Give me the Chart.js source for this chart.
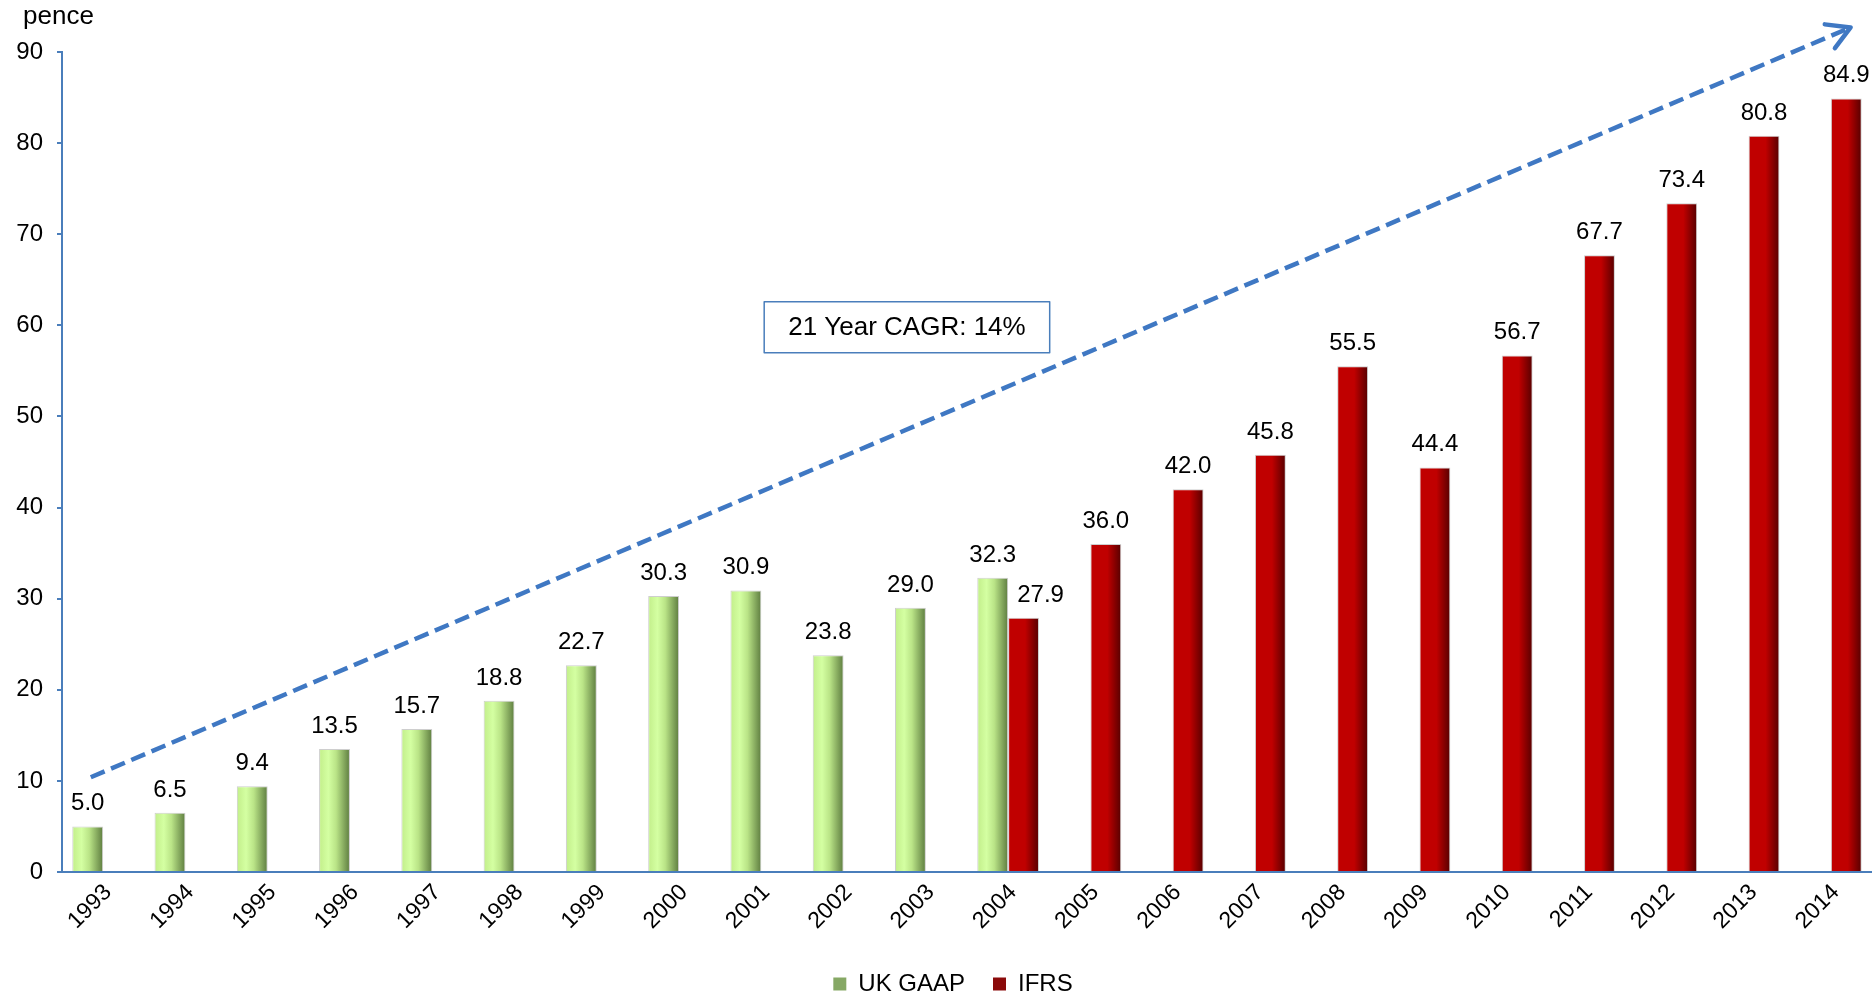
<!DOCTYPE html>
<html>
<head>
<meta charset="utf-8">
<title>Dividend per share</title>
<script src="https://cdn.jsdelivr.net/npm/chart.js@4/dist/chart.umd.min.js"></script>
<style>
  html, body { margin: 0; padding: 0; background: #ffffff; overflow: hidden; }
  canvas { display: block; }
</style>
</head>
<body>
<canvas id="chart" width="1872" height="997"></canvas>
<script>
// ---- data -----------------------------------------------------------
const years = ['1993', '1994', '1995', '1996', '1997', '1998', '1999', '2000', '2001', '2002', '2003',
               '2004', '2005', '2006', '2007', '2008', '2009', '2010', '2011', '2012', '2013', '2014'];

// pence per share, reported under UK GAAP (to 2004) and IFRS (from 2004)
const ukGaap = [5.0, 6.5, 9.4, 13.5, 15.7, 18.8, 22.7, 30.3, 30.9, 23.8, 29.0, 32.3,
                null, null, null, null, null, null, null, null, null, null];
const ifrs   = [null, null, null, null, null, null, null, null, null, null, null, 27.9,
                36.0, 42.0, 45.8, 55.5, 44.4, 56.7, 67.7, 73.4, 80.8, 84.9];

const seriesNames = ['UK GAAP', 'IFRS'];
const valueTicks = [0, 10, 20, 30, 40, 50, 60, 70, 80, 90];
const unitLabel = 'pence';
const cagrText = '21 Year CAGR: 14%';

// ---- styling ----------------------------------------------------------
const FONT = "'Liberation Sans', Arial, Helvetica, sans-serif";
const AXIS_BLUE = '#4a7ebb';
const CATEGORY_PCT = 0.75;

const greenStops = [[0, '#c2ee8a'], [0.3, '#d4ffa2'], [0.55, '#bae487'], [1, '#5d7c3f']];
const redStops   = [[0, '#c00000'], [0.55, '#c00000'], [1, '#560000']];

// Horizontal "cylinder" shading across each bar, placed from the category scale
function barFill(stops) {
  return function (ctx) {
    const chart = ctx.chart;
    const xs = chart.scales && chart.scales.x;
    if (!xs || !xs.width || ctx.type !== 'data') return stops[0][1];
    const center = xs.getPixelForValue(ctx.dataIndex);
    const barW = (xs.width / years.length) * CATEGORY_PCT / 2;
    const left = ctx.datasetIndex === 0 ? center - barW : center;
    const g = chart.ctx.createLinearGradient(left, 0, left + barW, 0);
    stops.forEach(([o, c]) => g.addColorStop(o, c));
    return g;
  };
}

// Nudges the bottom legend sideways after layout
const legendNudge = {
  id: 'legendNudge',
  afterLayout(chart, args, opts) {
    const lg = chart.legend;
    if (!lg) return;
    lg.left += opts.dx;
    lg.right += opts.dx;
  }
};

// Value labels above each bar
const valueLabels = {
  id: 'valueLabels',
  afterDatasetsDraw(chart, args, opts) {
    const ctx = chart.ctx;
    ctx.save();
    ctx.font = opts.font;
    ctx.fillStyle = opts.color;
    ctx.textAlign = 'center';
    ctx.textBaseline = 'alphabetic';
    chart.data.datasets.forEach((ds, di) => {
      const meta = chart.getDatasetMeta(di);
      meta.data.forEach((bar, i) => {
        const v = ds.data[i];
        if (v === null || v === undefined) return;
        let dx = 0;
        (opts.shifts || []).forEach(s => { if (s.dataset === di && s.index === i) dx = s.dx; });
        ctx.fillText(v.toFixed(1), bar.x + dx, bar.y - opts.gap);
      });
    });
    ctx.restore();
  }
};

// Unit caption, dashed growth arrow and the CAGR call-out
const overlay = {
  id: 'overlay',
  afterDatasetsDraw(chart, args, o) {
    const ctx = chart.ctx;
    const xs = chart.scales.x, ys = chart.scales.y;
    ctx.save();

    ctx.font = o.unitFont;
    ctx.fillStyle = '#000';
    ctx.textAlign = 'left';
    ctx.textBaseline = 'alphabetic';
    ctx.fillText(unitLabel, ys.right + o.unitDx, o.unitY);

    const t = o.trend;
    const x0 = xs.getPixelForValue(t.from[0]), y0 = ys.getPixelForValue(t.from[1]);
    const x1 = xs.getPixelForValue(t.to[0]),   y1 = ys.getPixelForValue(t.to[1]);
    ctx.strokeStyle = t.color;
    ctx.lineWidth = t.width;
    ctx.setLineDash(t.dash);
    ctx.beginPath();
    ctx.moveTo(x0, y0);
    ctx.lineTo(x1, y1);
    ctx.stroke();
    ctx.setLineDash([]);
    const ang = Math.atan2(y1 - y0, x1 - x0);
    ctx.lineCap = 'round';
    ctx.lineJoin = 'round';
    ctx.beginPath();
    ctx.moveTo(x1 - t.head * Math.cos(ang - t.spread), y1 - t.head * Math.sin(ang - t.spread));
    ctx.lineTo(x1, y1);
    ctx.lineTo(x1 - t.head * Math.cos(ang + t.spread), y1 - t.head * Math.sin(ang + t.spread));
    ctx.stroke();

    const n = o.note;
    const cx = xs.getPixelForValue(n.at[0]), cy = ys.getPixelForValue(n.at[1]);
    ctx.font = n.font;
    const w = ctx.measureText(cagrText).width + 2 * n.padX;
    const h = n.height;
    ctx.fillStyle = '#fff';
    ctx.fillRect(cx - w / 2, cy - h / 2, w, h);
    ctx.strokeStyle = n.border;
    ctx.lineWidth = n.borderWidth;
    ctx.strokeRect(cx - w / 2, cy - h / 2, w, h);
    ctx.fillStyle = '#000';
    ctx.textAlign = 'center';
    ctx.textBaseline = 'middle';
    ctx.fillText(cagrText, cx, cy + 1);

    ctx.restore();
  }
};

Chart.defaults.font.family = FONT;
Chart.defaults.font.size = 24;
Chart.defaults.color = '#000';

new Chart(document.getElementById('chart'), {
  type: 'bar',
  data: {
    labels: years,
    datasets: [
      {
        label: seriesNames[0],
        data: ukGaap,
        backgroundColor: barFill(greenStops),
        borderColor: 'rgba(190,190,190,0.75)',
        borderWidth: 1,
        categoryPercentage: CATEGORY_PCT,
        barPercentage: 1.0
      },
      {
        label: seriesNames[1],
        data: ifrs,
        backgroundColor: barFill(redStops),
        borderColor: 'rgba(190,190,190,0.75)',
        borderWidth: 1,
        categoryPercentage: CATEGORY_PCT,
        barPercentage: 1.0
      }
    ]
  },
  options: {
    responsive: false,
    animation: false,
    devicePixelRatio: 1,
    events: [],
    layout: { padding: { top: 52, right: -6, left: 0, bottom: 0 } },
    scales: {
      x: {
        grid: { display: false, drawTicks: false },
        border: { display: true, color: AXIS_BLUE, width: 2 },
        ticks: { autoSkip: false, minRotation: 45, maxRotation: 45, padding: 7, labelOffset: 5, font: { size: 23 } },
        afterFit(scale) { scale.height = 72; }
      },
      y: {
        min: 0,
        max: 90,
        afterBuildTicks(scale) { scale.ticks = valueTicks.map(v => ({ value: v })); },
        afterFit(scale) { scale.width = 62; },
        grid: { display: true, drawOnChartArea: false, drawTicks: true, tickLength: 5, color: AXIS_BLUE, lineWidth: 2 },
        border: { display: true, color: AXIS_BLUE, width: 2 },
        ticks: { padding: 14, font: { size: 24 } }
      }
    },
    plugins: {
      tooltip: { enabled: false },
      legend: {
        position: 'bottom',
        maxHeight: 53,
        labels: {
          boxWidth: 13,
          boxHeight: 13,
          padding: 28,
          font: { size: 24 },
          generateLabels() {
            return [
              { text: seriesNames[0], fillStyle: '#86a865', strokeStyle: '#86a865', lineWidth: 0, datasetIndex: 0 },
              { text: seriesNames[1], fillStyle: '#8b0a0a', strokeStyle: '#8b0a0a', lineWidth: 0, datasetIndex: 1 }
            ];
          }
        }
      },
      legendNudge: { dx: 14 },
      valueLabels: {
        font: '24px ' + FONT,
        color: '#000',
        gap: 16,
        shifts: [{ dataset: 1, index: 11, dx: 17 }]
      },
      overlay: {
        unitFont: '26px ' + FONT,
        unitDx: -39,
        unitY: 24,
        trend: {
          from: [-0.15, 10.4],
          to: [21.24, 92.7],
          color: '#3f78c3',
          width: 4.5,
          dash: [15, 7],
          head: 26,
          spread: 0.52
        },
        note: {
          at: [9.77, 59.8],
          font: '26px ' + FONT,
          padX: 24,
          height: 51,
          border: AXIS_BLUE,
          borderWidth: 1.5
        }
      }
    }
  },
  plugins: [legendNudge, valueLabels, overlay]
});
</script>
</body>
</html>
